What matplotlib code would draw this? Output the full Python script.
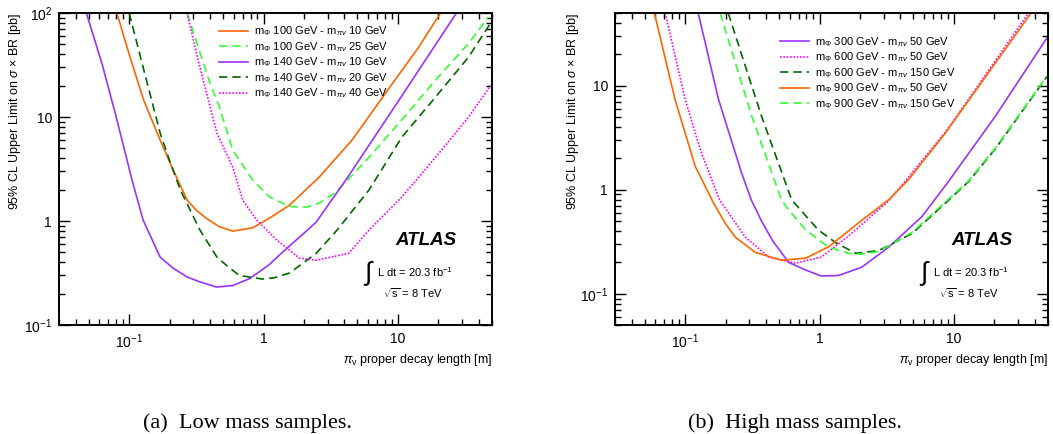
import matplotlib
matplotlib.use("Agg")
import matplotlib.pyplot as plt
from matplotlib.ticker import LogLocator, NullFormatter

plt.rcParams['font.family'] = ['Liberation Sans', 'DejaVu Sans']
plt.rcParams['mathtext.fontset'] = 'custom'
plt.rcParams['mathtext.rm'] = 'Liberation Sans'
plt.rcParams['mathtext.it'] = 'Liberation Sans:italic'
plt.rcParams['mathtext.bf'] = 'Liberation Sans:bold'

# ---- (a) low mass samples: decay length [m] vs limit [pb]
lo_100_10_x = [0.081, 0.1, 0.128, 0.17, 0.21, 0.27, 0.32, 0.38, 0.47, 0.59, 0.83, 1.11, 1.56, 2.6, 4.56, 8.1, 14.3, 20.8]
lo_100_10_y = [100, 40, 14.6, 6.0, 3.2, 1.59, 1.25, 1.05, 0.88, 0.80, 0.86, 1.07, 1.42, 2.65, 6.0, 17, 47, 100]

lo_100_25_x = [0.27, 0.40, 0.47, 0.59, 0.83, 1.11, 1.56, 2.08, 2.6, 3.47, 6.1, 10.7, 19.1, 33.6, 47]
lo_100_25_y = [100, 21, 12.5, 4.8, 2.48, 1.70, 1.38, 1.36, 1.49, 1.9, 4.1, 9.4, 22.7, 51, 91]

lo_140_10_x = [0.048, 0.063, 0.080, 0.105, 0.127, 0.17, 0.212, 0.27, 0.336, 0.447, 0.59, 0.79, 1.1, 1.38, 2.08, 2.47, 4.2, 10, 27.3]
lo_140_10_y = [100, 32, 10, 2.48, 1.02, 0.45, 0.353, 0.29, 0.26, 0.232, 0.24, 0.28, 0.38, 0.50, 0.80, 0.98, 2.6, 14, 100]

lo_140_20_x = [0.1, 0.127, 0.17, 0.2, 0.24, 0.336, 0.45, 0.55, 0.66, 0.98, 1.2, 1.56, 2.47, 3.53, 6.1, 10.7, 19.1, 33.6, 49]
lo_140_20_y = [100, 30, 7, 3.8, 2.0, 0.82, 0.45, 0.36, 0.30, 0.277, 0.285, 0.316, 0.49, 0.82, 1.99, 6.4, 15.6, 37.7, 80]

lo_140_40_x = [0.27, 0.336, 0.45, 0.59, 0.70, 0.89, 1.25, 1.85, 2.47, 4.3, 6.1, 10.7, 19.1, 33.6, 49]
lo_140_40_y = [100, 30, 7, 3.3, 1.59, 1.02, 0.66, 0.44, 0.42, 0.49, 0.82, 1.70, 4.1, 10, 20]

# ---- (b) high mass samples
hi_300_50_x = [0.125, 0.177, 0.263, 0.31, 0.37, 0.45, 0.59, 0.79, 1.03, 1.39, 2.06, 3.27, 5.77, 8.9, 20.4, 49.5]
hi_300_50_y = [50, 7.4, 1.45, 0.80, 0.50, 0.32, 0.20, 0.169, 0.148, 0.15, 0.18, 0.28, 0.55, 1.15, 5.1, 29]

hi_600_50_x = [0.071, 0.10, 0.13, 0.18, 0.21, 0.28, 0.42, 0.66, 1.03, 1.65, 3.27, 8.7, 36]
hi_600_50_y = [50, 7.4, 2.4, 0.80, 0.60, 0.35, 0.225, 0.197, 0.225, 0.36, 0.78, 3.6, 50]

hi_600_150_x = [0.209, 0.37, 0.62, 0.98, 1.32, 1.86, 2.76, 4.9, 9.2, 12.9, 20.5, 49.5]
hi_600_150_y = [50, 5.1, 0.80, 0.41, 0.31, 0.245, 0.26, 0.38, 0.80, 1.2, 2.5, 12.3]

hi_900_50_x = [0.059, 0.084, 0.1, 0.119, 0.163, 0.2, 0.236, 0.333, 0.52, 0.79, 1.17, 2.07, 3.27, 4.6, 8.7, 38]
hi_900_50_y = [50, 7.4, 3.5, 1.67, 0.74, 0.47, 0.35, 0.25, 0.21, 0.22, 0.283, 0.51, 0.80, 1.25, 3.55, 51]

hi_900_150_x = [0.182, 0.313, 0.47, 0.52, 0.59, 0.79, 1.17, 1.65, 2.06, 2.76, 4.9, 9.2, 12.9, 20.5, 49.5]
hi_900_150_y = [50, 5.1, 1.16, 0.80, 0.64, 0.41, 0.28, 0.245, 0.24, 0.255, 0.39, 0.82, 1.22, 2.55, 12.5]

ORANGE = '#ff6600'
LGREEN = '#33ff33'
PURPLE = '#9933ff'
DGREEN = '#006600'
MAGENTA = '#ff00ff'
DASH = (0, (5, 3))
DOT = (0, (1, 1))


def lbl(mphi, mpi):
    return r'm$_{\Phi}$ %d GeV - m$_{\pi v}$ %d GeV' % (mphi, mpi)


def style_axes(ax, ylo, yhi, yticks, ylabels, ylab_x):
    ax.set_xscale('log')
    ax.set_yscale('log')
    ax.set_xlim(0.03, 50)
    ax.set_ylim(ylo, yhi)
    ax.set_xticks([0.1, 1, 10], [r'$10^{-1}$', '1', '10'])
    ax.set_yticks(yticks, ylabels)
    ax.xaxis.set_minor_locator(LogLocator(base=10, subs=range(2, 10)))
    ax.yaxis.set_minor_locator(LogLocator(base=10, subs=range(2, 10)))
    ax.xaxis.set_minor_formatter(NullFormatter())
    ax.yaxis.set_minor_formatter(NullFormatter())
    ax.tick_params(which='both', direction='in', top=True, right=True, width=1.0, labelsize=10)
    ax.tick_params(which='major', length=8, pad=5)
    ax.tick_params(which='minor', length=4)
    for s in ax.spines.values():
        s.set_linewidth(1.4)
    ax.set_ylabel(r'95% CL Upper Limit on $\sigma$ $\times$ BR [pb]', fontsize=9, loc='top')
    ax.yaxis.set_label_coords(ylab_x, 1.0)
    ax.set_xlabel(r'$\pi_{\rm v}$ proper decay length [m]', fontsize=9, loc='right')
    ax.xaxis.set_label_coords(1.0, -0.087)
    ax.text(0.848, 0.272, 'ATLAS', transform=ax.transAxes, fontsize=13.5,
            fontweight='bold', fontstyle='italic', ha='center', va='center')
    ax.text(0.716, 0.165, r'$\int$', transform=ax.transAxes, fontsize=19,
            ha='center', va='center')
    ax.text(0.734, 0.17, r'L dt = 20.3 fb$^{-1}$', transform=ax.transAxes,
            fontsize=8, ha='left', va='center')
    ax.text(0.748, 0.103, r'$\sqrt{\rm s}$ = 8 TeV', transform=ax.transAxes,
            fontsize=8, ha='left', va='center')


fig = plt.figure(figsize=(10.53, 4.34), dpi=100)
ax1 = fig.add_axes([0.056, 0.251, 0.411, 0.719])
ax2 = fig.add_axes([0.584, 0.251, 0.411, 0.719])

lw = 1.2
ax1.plot(lo_100_10_x, lo_100_10_y, color=ORANGE, lw=lw, label=lbl(100, 10))
ax1.plot(lo_100_25_x, lo_100_25_y, color=LGREEN, lw=lw, ls=DASH, label=lbl(100, 25))
ax1.plot(lo_140_10_x, lo_140_10_y, color=PURPLE, lw=lw, label=lbl(140, 10))
ax1.plot(lo_140_20_x, lo_140_20_y, color=DGREEN, lw=lw, ls=DASH, label=lbl(140, 20))
ax1.plot(lo_140_40_x, lo_140_40_y, color=MAGENTA, lw=lw, ls=DOT, label=lbl(140, 40))
style_axes(ax1, 0.1, 100, [0.1, 1, 10, 100], [r'$10^{-1}$', '1', '10', r'$10^{2}$'], -0.083)
ax1.legend(loc='upper left', bbox_to_anchor=(0.346, 0.995), frameon=False, fontsize=8,
           handlelength=2.6, labelspacing=0.15, handletextpad=0.55)

ax2.plot(hi_300_50_x, hi_300_50_y, color=PURPLE, lw=lw, label=lbl(300, 50))
ax2.plot(hi_600_50_x, hi_600_50_y, color=MAGENTA, lw=lw, ls=DOT, label=lbl(600, 50))
ax2.plot(hi_600_150_x, hi_600_150_y, color=DGREEN, lw=lw, ls=DASH, label=lbl(600, 150))
ax2.plot(hi_900_50_x, hi_900_50_y, color=ORANGE, lw=lw, label=lbl(900, 50))
ax2.plot(hi_900_150_x, hi_900_150_y, color=LGREEN, lw=lw, ls=DASH, label=lbl(900, 150))
style_axes(ax2, 0.05, 50, [0.1, 1, 10], [r'$10^{-1}$', '1', '10'], -0.079)
ax2.legend(loc='upper left', bbox_to_anchor=(0.358, 0.961), frameon=False, fontsize=8,
           handlelength=2.6, labelspacing=0.15, handletextpad=0.55)

fig.text(0.2346, 0.0138, '(a)  Low mass samples.', family='Liberation Serif', fontsize=16,
         ha='center', va='baseline')
fig.text(0.755, 0.0138, '(b)  High mass samples.', family='Liberation Serif', fontsize=16,
         ha='center', va='baseline')

fig.savefig('out.png', dpi=100)
